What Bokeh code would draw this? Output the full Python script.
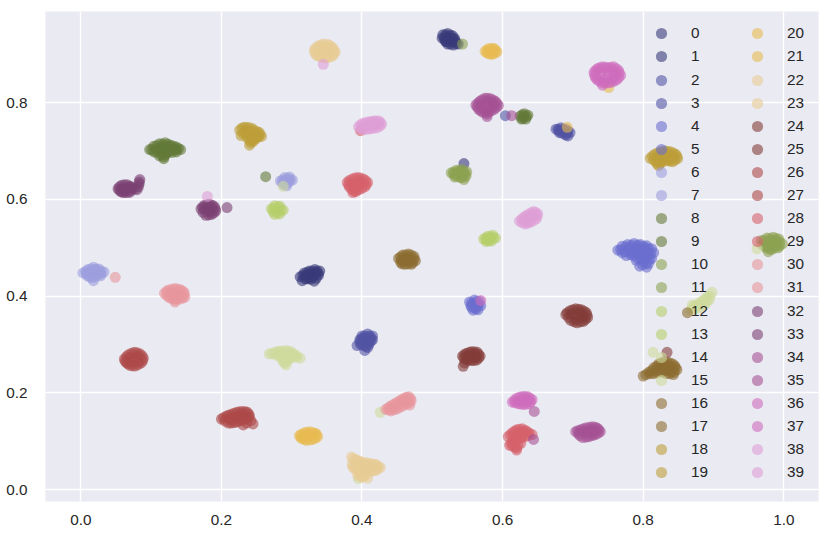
from bokeh.plotting import figure
from bokeh.models import Legend, LegendItem, FixedTicker, PrintfTickFormatter, Range1d
from bokeh.palettes import Category20b_20
from bokeh.embed import file_html
from bokeh.resources import INLINE

# ---- data: points of each class (x, y) ----
c00 = [(0.515, 0.940), (0.522, 0.943), (0.529, 0.938), (0.518, 0.930), (0.526, 0.930),
       (0.533, 0.926), (0.522, 0.921), (0.530, 0.919), (0.537, 0.921), (0.514, 0.933),
       (0.522, 0.936), (0.530, 0.932), (0.525, 0.926), (0.519, 0.926),
       (0.519, 0.940), (0.526, 0.939), (0.532, 0.932), (0.534, 0.922), (0.526, 0.921),
       (0.520, 0.926), (0.517, 0.933)]
c01 = [(0.312, 0.440), (0.318, 0.448), (0.325, 0.452), (0.333, 0.455), (0.340, 0.452),
       (0.338, 0.443), (0.330, 0.440), (0.322, 0.436), (0.315, 0.432), (0.332, 0.431),
       (0.326, 0.445), (0.320, 0.442), (0.330, 0.447), (0.334, 0.448), (0.326, 0.438),
       (0.316, 0.443), (0.322, 0.449), (0.329, 0.452), (0.336, 0.452), (0.338, 0.447),
       (0.335, 0.437), (0.327, 0.435), (0.319, 0.436), (0.545, 0.674)]
c02 = [(0.400, 0.318), (0.408, 0.322), (0.415, 0.318), (0.413, 0.308), (0.405, 0.306),
       (0.397, 0.310), (0.393, 0.298), (0.402, 0.298), (0.410, 0.300), (0.404, 0.288),
       (0.415, 0.310), (0.403, 0.314), (0.410, 0.314), (0.400, 0.304), (0.408, 0.294),
       (0.404, 0.318), (0.411, 0.318), (0.413, 0.313), (0.410, 0.304), (0.406, 0.296),
       (0.398, 0.300), (0.397, 0.305), (0.399, 0.312), (0.604, 0.773)]
c03 = [(0.676, 0.745), (0.683, 0.748), (0.690, 0.745), (0.696, 0.738), (0.689, 0.735),
       (0.681, 0.738), (0.686, 0.740), (0.693, 0.731), (0.680, 0.742), (0.688, 0.742),
       (0.692, 0.738), (0.679, 0.745), (0.686, 0.745), (0.693, 0.741), (0.690, 0.733),
       (0.684, 0.737)]
c04 = [(0.764, 0.495), (0.770, 0.503), (0.778, 0.507), (0.787, 0.509), (0.796, 0.507),
       (0.805, 0.504), (0.812, 0.498), (0.815, 0.490), (0.806, 0.492), (0.797, 0.495),
       (0.788, 0.496), (0.779, 0.494), (0.770, 0.490), (0.776, 0.484), (0.786, 0.484),
       (0.796, 0.482), (0.806, 0.480), (0.800, 0.472), (0.790, 0.474), (0.808, 0.468),
       (0.812, 0.478), (0.795, 0.462), (0.805, 0.460), (0.780, 0.500), (0.792, 0.502),
       (0.802, 0.499), (0.783, 0.489), (0.795, 0.489), (0.807, 0.487), (0.797, 0.477),
       (0.768, 0.496), (0.775, 0.502), (0.783, 0.505), (0.792, 0.506), (0.801, 0.503),
       (0.808, 0.498), (0.811, 0.488), (0.809, 0.476), (0.804, 0.467), (0.799, 0.465),
       (0.792, 0.478), (0.782, 0.486), (0.774, 0.492), (0.788, 0.490), (0.800, 0.486)]
c05 = [(0.553, 0.388), (0.560, 0.392), (0.567, 0.389), (0.569, 0.380), (0.562, 0.378),
       (0.555, 0.380), (0.558, 0.371), (0.565, 0.372), (0.559, 0.385), (0.564, 0.383),
       (0.561, 0.376), (0.556, 0.386), (0.563, 0.389), (0.566, 0.382), (0.562, 0.374),
       (0.556, 0.377)]
c06 = [(0.003, 0.448), (0.010, 0.455), (0.018, 0.460), (0.026, 0.456), (0.033, 0.450),
       (0.028, 0.442), (0.020, 0.440), (0.012, 0.440), (0.018, 0.432), (0.008, 0.447),
       (0.022, 0.449), (0.014, 0.450), (0.020, 0.455), (0.026, 0.449), (0.014, 0.444),
       (0.007, 0.451), (0.014, 0.456), (0.022, 0.456), (0.029, 0.452), (0.029, 0.446),
       (0.023, 0.443), (0.016, 0.438), (0.009, 0.443)]
c07 = [(0.284, 0.638), (0.290, 0.645), (0.297, 0.646), (0.301, 0.640), (0.295, 0.635),
       (0.289, 0.630), (0.293, 0.628), (0.291, 0.638), (0.296, 0.640), (0.287, 0.640),
       (0.294, 0.643), (0.298, 0.640), (0.292, 0.632), (0.287, 0.634)]
c08 = [(0.098, 0.703), (0.104, 0.710), (0.104, 0.698), (0.112, 0.715), (0.112, 0.702),
       (0.112, 0.690), (0.120, 0.717), (0.120, 0.705), (0.120, 0.692), (0.118, 0.684),
       (0.128, 0.712), (0.128, 0.700), (0.136, 0.708), (0.136, 0.698), (0.142, 0.703),
       (0.108, 0.704), (0.116, 0.709), (0.116, 0.697), (0.124, 0.710), (0.124, 0.698),
       (0.132, 0.704), (0.101, 0.703), (0.108, 0.711), (0.116, 0.714), (0.124, 0.714),
       (0.132, 0.710), (0.139, 0.705), (0.136, 0.702), (0.130, 0.697), (0.122, 0.695),
       (0.114, 0.693), (0.107, 0.698), (0.118, 0.688), (0.263, 0.647)]
c09 = [(0.625, 0.772), (0.631, 0.777), (0.636, 0.774), (0.633, 0.766), (0.627, 0.766),
       (0.630, 0.771), (0.628, 0.775), (0.634, 0.771), (0.629, 0.767)]
c10 = [(0.527, 0.655), (0.534, 0.660), (0.542, 0.662), (0.549, 0.657), (0.548, 0.648),
       (0.540, 0.645), (0.532, 0.646), (0.538, 0.653), (0.545, 0.641), (0.536, 0.656),
       (0.544, 0.654), (0.540, 0.650), (0.530, 0.656), (0.538, 0.659), (0.545, 0.658),
       (0.547, 0.652), (0.543, 0.645), (0.535, 0.648), (0.531, 0.651), (0.543, 0.921)]
c11 = [(0.968, 0.515), (0.976, 0.520), (0.985, 0.522), (0.993, 0.518), (0.998, 0.508),
       (0.992, 0.500), (0.983, 0.497), (0.975, 0.500), (0.970, 0.506), (0.984, 0.510),
       (0.978, 0.492), (0.980, 0.514), (0.988, 0.514), (0.978, 0.505), (0.990, 0.505),
       (0.972, 0.515), (0.980, 0.519), (0.989, 0.519), (0.994, 0.512), (0.994, 0.504),
       (0.987, 0.500), (0.980, 0.497), (0.974, 0.503), (0.984, 0.504)]
c12 = [(0.271, 0.580), (0.276, 0.587), (0.283, 0.586), (0.288, 0.578), (0.283, 0.570),
       (0.276, 0.569), (0.279, 0.578), (0.274, 0.582), (0.281, 0.585), (0.285, 0.578),
       (0.280, 0.572), (0.274, 0.574)]
c13 = [(0.573, 0.518), (0.579, 0.524), (0.586, 0.526), (0.590, 0.520), (0.584, 0.514),
       (0.577, 0.513), (0.582, 0.519), (0.576, 0.520), (0.583, 0.523), (0.587, 0.520),
       (0.581, 0.515), (0.577, 0.516)]
c14 = [(0.268, 0.281), (0.276, 0.284), (0.284, 0.287), (0.292, 0.288), (0.299, 0.285),
       (0.291, 0.278), (0.283, 0.276), (0.296, 0.270), (0.307, 0.274), (0.312, 0.272),
       (0.288, 0.265), (0.292, 0.258), (0.280, 0.281), (0.288, 0.282), (0.296, 0.281),
       (0.302, 0.278), (0.290, 0.271), (0.272, 0.281), (0.280, 0.285), (0.288, 0.286),
       (0.296, 0.285), (0.303, 0.281), (0.307, 0.277), (0.300, 0.273), (0.293, 0.266),
       (0.286, 0.271), (0.278, 0.278), (0.290, 0.262),
       (0.288, 0.627), (0.395, 0.023), (0.814, 0.284)]
c15 = [(0.868, 0.372), (0.874, 0.380), (0.880, 0.386), (0.886, 0.392), (0.892, 0.400),
       (0.898, 0.408), (0.878, 0.375), (0.888, 0.383), (0.894, 0.392), (0.870, 0.382),
       (0.883, 0.386), (0.876, 0.378), (0.890, 0.395), (0.871, 0.377), (0.877, 0.383),
       (0.884, 0.389), (0.890, 0.388), (0.895, 0.400), (0.882, 0.380), (0.873, 0.374),
       (0.962, 0.498), (0.426, 0.160)]
c16 = [(0.452, 0.478), (0.458, 0.485), (0.466, 0.487), (0.474, 0.482), (0.476, 0.473),
       (0.470, 0.466), (0.461, 0.466), (0.455, 0.470), (0.464, 0.476), (0.460, 0.478),
       (0.468, 0.480), (0.468, 0.472), (0.458, 0.473), (0.455, 0.481), (0.462, 0.485),
       (0.470, 0.485), (0.474, 0.477), (0.472, 0.469), (0.465, 0.467), (0.457, 0.467),
       (0.456, 0.475), (0.863, 0.366)]
c17 = [(0.800, 0.235), (0.808, 0.243), (0.815, 0.252), (0.822, 0.260), (0.830, 0.265),
       (0.838, 0.262), (0.845, 0.256), (0.848, 0.248), (0.840, 0.245), (0.830, 0.250),
       (0.822, 0.245), (0.833, 0.240), (0.843, 0.238), (0.815, 0.240), (0.828, 0.256),
       (0.818, 0.248), (0.826, 0.252), (0.835, 0.256), (0.840, 0.252), (0.836, 0.246),
       (0.810, 0.240), (0.804, 0.238), (0.812, 0.246), (0.819, 0.255), (0.826, 0.262),
       (0.834, 0.264), (0.842, 0.260), (0.846, 0.252), (0.844, 0.243), (0.838, 0.240),
       (0.828, 0.243), (0.820, 0.242), (0.832, 0.248)]
c18 = [(0.226, 0.743), (0.232, 0.749), (0.240, 0.748), (0.247, 0.742), (0.254, 0.738),
       (0.257, 0.730), (0.250, 0.728), (0.242, 0.732), (0.235, 0.735), (0.228, 0.732),
       (0.245, 0.720), (0.240, 0.712), (0.234, 0.742), (0.242, 0.740), (0.248, 0.735),
       (0.246, 0.728), (0.236, 0.728), (0.244, 0.723), (0.229, 0.747), (0.236, 0.749),
       (0.244, 0.746), (0.251, 0.740), (0.255, 0.734), (0.253, 0.729), (0.246, 0.731),
       (0.238, 0.733), (0.231, 0.736), (0.242, 0.717), (0.248, 0.724), (0.240, 0.722)]
c19 = [(0.810, 0.685), (0.816, 0.693), (0.824, 0.698), (0.832, 0.700), (0.840, 0.698),
       (0.847, 0.692), (0.849, 0.684), (0.842, 0.678), (0.834, 0.680), (0.826, 0.682),
       (0.818, 0.678), (0.822, 0.670), (0.836, 0.688), (0.820, 0.688), (0.828, 0.692),
       (0.836, 0.694), (0.843, 0.690), (0.830, 0.686), (0.826, 0.676), (0.838, 0.682),
       (0.813, 0.689), (0.820, 0.696), (0.828, 0.699), (0.836, 0.699), (0.844, 0.695),
       (0.848, 0.688), (0.845, 0.681), (0.838, 0.679), (0.830, 0.681), (0.822, 0.680),
       (0.815, 0.681), (0.824, 0.674), (0.820, 0.673)]
c20 = [(0.575, 0.906), (0.581, 0.912), (0.588, 0.912), (0.592, 0.905), (0.586, 0.900),
       (0.580, 0.901), (0.584, 0.906), (0.578, 0.909), (0.585, 0.912), (0.590, 0.908),
       (0.589, 0.902), (0.583, 0.900), (0.578, 0.903), (0.751, 0.831)]
c21 = [(0.311, 0.112), (0.318, 0.118), (0.326, 0.120), (0.334, 0.117), (0.337, 0.110),
       (0.330, 0.104), (0.321, 0.102), (0.314, 0.106), (0.325, 0.111), (0.318, 0.110),
       (0.330, 0.114), (0.322, 0.115), (0.314, 0.115), (0.322, 0.119), (0.330, 0.118),
       (0.335, 0.114), (0.334, 0.107), (0.326, 0.103), (0.318, 0.104), (0.313, 0.109),
       (0.692, 0.749)]
c22 = [(0.332, 0.908), (0.337, 0.916), (0.344, 0.921), (0.352, 0.920), (0.358, 0.914),
       (0.362, 0.905), (0.358, 0.896), (0.350, 0.892), (0.342, 0.894), (0.335, 0.898),
       (0.346, 0.907), (0.340, 0.908), (0.350, 0.912), (0.355, 0.905), (0.348, 0.900),
       (0.341, 0.900), (0.334, 0.912), (0.340, 0.918), (0.348, 0.920), (0.355, 0.917),
       (0.360, 0.909), (0.360, 0.900), (0.354, 0.894), (0.346, 0.893), (0.338, 0.896),
       (0.333, 0.903)]
c23 = [(0.385, 0.068), (0.392, 0.062), (0.398, 0.058), (0.406, 0.056), (0.414, 0.054),
       (0.420, 0.052), (0.426, 0.046), (0.420, 0.040), (0.412, 0.038), (0.404, 0.036),
       (0.396, 0.038), (0.389, 0.044), (0.386, 0.052), (0.400, 0.046), (0.410, 0.046),
       (0.400, 0.026), (0.408, 0.024), (0.394, 0.030), (0.392, 0.052), (0.398, 0.050),
       (0.405, 0.050), (0.415, 0.046), (0.405, 0.040), (0.396, 0.044), (0.403, 0.032),
       (0.388, 0.064), (0.395, 0.060), (0.402, 0.056), (0.410, 0.054), (0.417, 0.052),
       (0.423, 0.048), (0.422, 0.043), (0.416, 0.039), (0.408, 0.037), (0.400, 0.037),
       (0.392, 0.041), (0.387, 0.048), (0.398, 0.028), (0.404, 0.028), (0.410, 0.042)]
c24 = [(0.690, 0.362), (0.696, 0.370), (0.704, 0.374), (0.712, 0.372), (0.719, 0.366),
       (0.721, 0.356), (0.715, 0.348), (0.706, 0.345), (0.697, 0.350), (0.705, 0.360),
       (0.712, 0.358), (0.698, 0.362), (0.710, 0.366), (0.714, 0.356), (0.704, 0.352),
       (0.692, 0.366), (0.700, 0.372), (0.708, 0.373), (0.716, 0.369), (0.720, 0.361),
       (0.718, 0.352), (0.711, 0.347), (0.702, 0.347), (0.694, 0.356), (0.834, 0.284)]
c25 = [(0.543, 0.276), (0.549, 0.282), (0.556, 0.285), (0.564, 0.284), (0.568, 0.276),
       (0.563, 0.268), (0.555, 0.267), (0.548, 0.269), (0.556, 0.276), (0.544, 0.255),
       (0.551, 0.277), (0.560, 0.280), (0.561, 0.273), (0.546, 0.280), (0.553, 0.284),
       (0.560, 0.285), (0.566, 0.280), (0.566, 0.272), (0.559, 0.267), (0.551, 0.268),
       (0.545, 0.272), (0.546, 0.262)]
c26 = [(0.062, 0.270), (0.068, 0.279), (0.076, 0.284), (0.084, 0.281), (0.089, 0.272),
       (0.086, 0.262), (0.078, 0.256), (0.070, 0.257), (0.065, 0.263), (0.076, 0.270),
       (0.070, 0.272), (0.081, 0.275), (0.081, 0.265), (0.072, 0.264), (0.065, 0.275),
       (0.072, 0.282), (0.080, 0.283), (0.087, 0.277), (0.088, 0.267), (0.082, 0.259),
       (0.074, 0.256), (0.067, 0.260), (0.063, 0.266)]
c27 = [(0.200, 0.146), (0.207, 0.152), (0.214, 0.156), (0.222, 0.160), (0.230, 0.162),
       (0.237, 0.160), (0.240, 0.152), (0.234, 0.146), (0.226, 0.142), (0.218, 0.139),
       (0.210, 0.138), (0.222, 0.150), (0.231, 0.134), (0.245, 0.136), (0.212, 0.146),
       (0.218, 0.151), (0.228, 0.155), (0.233, 0.153), (0.226, 0.149), (0.216, 0.144),
       (0.203, 0.149), (0.210, 0.154), (0.218, 0.158), (0.226, 0.161), (0.234, 0.161),
       (0.239, 0.156), (0.238, 0.149), (0.230, 0.144), (0.222, 0.140), (0.214, 0.138),
       (0.205, 0.142), (0.236, 0.138), (0.242, 0.143)]
c28 = [(0.379, 0.635), (0.386, 0.642), (0.394, 0.645), (0.402, 0.642), (0.408, 0.635),
       (0.404, 0.626), (0.396, 0.620), (0.388, 0.618), (0.382, 0.626), (0.393, 0.632),
       (0.387, 0.614), (0.387, 0.633), (0.397, 0.637), (0.400, 0.630), (0.390, 0.626),
       (0.382, 0.639), (0.390, 0.644), (0.398, 0.644), (0.405, 0.639), (0.406, 0.630),
       (0.400, 0.623), (0.392, 0.619), (0.385, 0.622), (0.381, 0.630), (0.391, 0.616),
       (0.398, 0.742)]
c29 = [(0.608, 0.110), (0.614, 0.118), (0.620, 0.124), (0.628, 0.126), (0.635, 0.120),
       (0.642, 0.114), (0.632, 0.110), (0.622, 0.106), (0.614, 0.100), (0.610, 0.092),
       (0.618, 0.088), (0.626, 0.096), (0.620, 0.082), (0.616, 0.111), (0.624, 0.116),
       (0.630, 0.119), (0.626, 0.106), (0.617, 0.099), (0.611, 0.114), (0.617, 0.121),
       (0.624, 0.125), (0.632, 0.123), (0.638, 0.117), (0.637, 0.112), (0.627, 0.108),
       (0.618, 0.103), (0.612, 0.096), (0.614, 0.090), (0.622, 0.092), (0.620, 0.086)]
c30 = [(0.119, 0.406), (0.125, 0.413), (0.133, 0.416), (0.141, 0.414), (0.147, 0.408),
       (0.148, 0.398), (0.141, 0.394), (0.132, 0.395), (0.125, 0.398), (0.133, 0.405),
       (0.134, 0.388), (0.128, 0.406), (0.138, 0.408), (0.140, 0.401), (0.129, 0.400),
       (0.122, 0.410), (0.129, 0.414), (0.137, 0.415), (0.144, 0.411), (0.147, 0.403),
       (0.145, 0.396), (0.136, 0.394), (0.128, 0.396), (0.122, 0.402), (0.134, 0.392),
       (0.049, 0.439)]
c31 = [(0.434, 0.166), (0.440, 0.172), (0.447, 0.178), (0.454, 0.184), (0.461, 0.190),
       (0.467, 0.192), (0.470, 0.184), (0.464, 0.178), (0.456, 0.172), (0.448, 0.166),
       (0.441, 0.163), (0.458, 0.182), (0.468, 0.175), (0.446, 0.172), (0.452, 0.177),
       (0.460, 0.184), (0.462, 0.186), (0.437, 0.169), (0.443, 0.175), (0.450, 0.181),
       (0.457, 0.187), (0.464, 0.191), (0.469, 0.188), (0.467, 0.180), (0.460, 0.175),
       (0.452, 0.169), (0.444, 0.165), (0.438, 0.165)]
c32 = [(0.053, 0.622), (0.058, 0.629), (0.066, 0.630), (0.073, 0.624), (0.070, 0.615),
       (0.062, 0.614), (0.057, 0.616), (0.065, 0.622), (0.080, 0.620), (0.083, 0.632),
       (0.084, 0.641), (0.060, 0.622), (0.070, 0.626), (0.063, 0.618), (0.055, 0.626),
       (0.062, 0.630), (0.070, 0.627), (0.072, 0.619), (0.066, 0.614), (0.059, 0.615),
       (0.055, 0.619), (0.077, 0.622), (0.082, 0.626), (0.083, 0.636), (0.208, 0.583)]
c33 = [(0.171, 0.580), (0.176, 0.588), (0.183, 0.590), (0.190, 0.585), (0.192, 0.576),
       (0.186, 0.569), (0.178, 0.567), (0.181, 0.578), (0.176, 0.580), (0.186, 0.583),
       (0.184, 0.575), (0.173, 0.584), (0.180, 0.589), (0.187, 0.588), (0.191, 0.580),
       (0.189, 0.572), (0.182, 0.568), (0.174, 0.573)]
c34 = [(0.562, 0.795), (0.568, 0.803), (0.575, 0.809), (0.583, 0.808), (0.590, 0.802),
       (0.594, 0.794), (0.588, 0.786), (0.580, 0.781), (0.572, 0.780), (0.566, 0.786),
       (0.578, 0.794), (0.578, 0.771), (0.570, 0.795), (0.578, 0.802), (0.586, 0.800),
       (0.586, 0.793), (0.574, 0.788), (0.582, 0.787), (0.565, 0.799), (0.571, 0.806),
       (0.579, 0.809), (0.587, 0.805), (0.592, 0.798), (0.591, 0.790), (0.584, 0.783),
       (0.576, 0.780), (0.569, 0.783), (0.564, 0.791), (0.578, 0.776),
       (0.613, 0.773), (0.644, 0.104)]
c35 = [(0.704, 0.120), (0.711, 0.124), (0.719, 0.128), (0.728, 0.130), (0.735, 0.127),
       (0.739, 0.120), (0.732, 0.114), (0.723, 0.110), (0.714, 0.108), (0.720, 0.119),
       (0.716, 0.120), (0.726, 0.123), (0.730, 0.120), (0.727, 0.115), (0.707, 0.122),
       (0.715, 0.126), (0.724, 0.129), (0.732, 0.129), (0.737, 0.124), (0.736, 0.117),
       (0.728, 0.112), (0.719, 0.109), (0.710, 0.112), (0.708, 0.116), (0.645, 0.162)]
c36 = [(0.730, 0.862), (0.735, 0.870), (0.742, 0.874), (0.750, 0.872), (0.758, 0.874),
       (0.765, 0.866), (0.768, 0.856), (0.762, 0.847), (0.754, 0.842), (0.745, 0.840),
       (0.737, 0.845), (0.732, 0.852), (0.750, 0.857), (0.742, 0.836), (0.740, 0.865),
       (0.750, 0.866), (0.758, 0.864), (0.760, 0.856), (0.740, 0.853), (0.747, 0.848),
       (0.756, 0.850), (0.732, 0.866), (0.738, 0.872), (0.746, 0.873), (0.754, 0.873),
       (0.762, 0.870), (0.766, 0.861), (0.765, 0.851), (0.758, 0.844), (0.750, 0.841),
       (0.741, 0.842), (0.734, 0.848), (0.731, 0.857)]
c37 = [(0.614, 0.181), (0.620, 0.189), (0.628, 0.193), (0.636, 0.192), (0.642, 0.186),
       (0.638, 0.178), (0.630, 0.176), (0.622, 0.178), (0.624, 0.184), (0.632, 0.187),
       (0.636, 0.184), (0.617, 0.185), (0.624, 0.191), (0.632, 0.193), (0.639, 0.189),
       (0.640, 0.182), (0.634, 0.177), (0.626, 0.177), (0.618, 0.180), (0.569, 0.391)]
c38 = [(0.395, 0.750), (0.401, 0.757), (0.409, 0.760), (0.417, 0.762), (0.424, 0.762),
       (0.428, 0.755), (0.421, 0.748), (0.412, 0.746), (0.403, 0.744), (0.408, 0.753),
       (0.416, 0.755), (0.421, 0.756), (0.402, 0.750), (0.398, 0.754), (0.405, 0.759),
       (0.413, 0.761), (0.420, 0.762), (0.426, 0.759), (0.425, 0.751), (0.416, 0.747),
       (0.408, 0.745), (0.399, 0.747), (0.345, 0.879), (0.180, 0.606)]
c39 = [(0.624, 0.555), (0.630, 0.563), (0.637, 0.569), (0.644, 0.575), (0.650, 0.570),
       (0.648, 0.560), (0.640, 0.553), (0.632, 0.549), (0.638, 0.561), (0.632, 0.558),
       (0.642, 0.565), (0.645, 0.568), (0.634, 0.553), (0.627, 0.559), (0.633, 0.566),
       (0.640, 0.572), (0.647, 0.573), (0.649, 0.565), (0.644, 0.556), (0.636, 0.551),
       (0.628, 0.552)]

clusters = [c00, c01, c02, c03, c04, c05, c06, c07, c08, c09,
            c10, c11, c12, c13, c14, c15, c16, c17, c18, c19,
            c20, c21, c22, c23, c24, c25, c26, c27, c28, c29,
            c30, c31, c32, c33, c34, c35, c36, c37, c38, c39]
class_labels = [str(i) for i in range(40)]
x_ticks = [0.0, 0.2, 0.4, 0.6, 0.8, 1.0]
y_ticks = [0.0, 0.2, 0.4, 0.6, 0.8]

FONT = "Liberation Sans"
FS = "15.3px"
TXT = "#262626"

p = figure(width=830, height=539, output_backend="svg", toolbar_location=None,
           x_range=Range1d(-0.0502, 1.0494), y_range=Range1d(-0.0242, 0.9882),
           min_border_left=45, min_border_right=12, min_border_top=11, min_border_bottom=38)
p.background_fill_color = "#EAEAF2"
p.border_fill_color = "white"
p.outline_line_color = None

for ax in (p.xaxis[0], p.yaxis[0]):
    ax.axis_line_color = None
    ax.major_tick_line_color = None
    ax.minor_tick_line_color = None
    ax.major_label_text_font = FONT
    ax.major_label_text_font_size = FS
    ax.major_label_text_color = TXT
    ax.formatter = PrintfTickFormatter(format="%.1f")
p.xaxis.ticker = FixedTicker(ticks=x_ticks)
p.yaxis.ticker = FixedTicker(ticks=y_ticks)
p.xaxis.major_label_standoff = 7
p.yaxis.major_label_standoff = 12
for g in (p.xgrid[0], p.ygrid[0]):
    g.grid_line_color = "white"
    g.grid_line_width = 1.4

renderers = []
for i, pts in enumerate(clusters):
    col = Category20b_20[i // 2]
    r = p.scatter([q[0] for q in pts], [q[1] for q in pts], size=11,
                  fill_color=col, fill_alpha=0.6, line_color=None)
    renderers.append(r)

# legend: two columns of 20 rows, one single-item legend per row
ROW_PITCH = 23.1
COL_X = [602, 698]
TOP_Y = 453.7
for i in range(40):
    col, row = divmod(i, 20)
    leg = Legend(items=[LegendItem(label=class_labels[i], renderers=[renderers[i]])],
                 location=(COL_X[col], TOP_Y - ROW_PITCH * row), orientation="vertical",
                 glyph_width=28, glyph_height=28, spacing=0, padding=0, margin=0,
                 label_standoff=16, label_text_font=FONT, label_text_font_size=FS,
                 label_text_color=TXT, background_fill_alpha=0, border_line_color=None)
    p.add_layout(leg, "center")

open("out.html", "w").write(file_html(p, INLINE))
